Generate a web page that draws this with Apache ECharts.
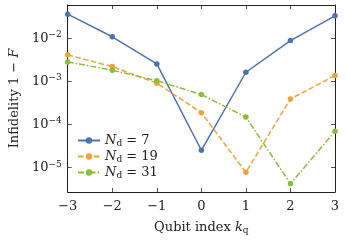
<!DOCTYPE html>
<html><head><meta charset="utf-8">
<script src="https://cdn.jsdelivr.net/npm/echarts@6/dist/echarts.min.js"></script>
<style>html,body{margin:0;padding:0;background:#fff}#c{width:345px;height:241px}</style>
</head><body><div id="c"></div>
<script>
const qubitIndex = [-3, -2, -1, 0, 1, 2, 3];
const nd7  = [0.0369, 0.0110, 0.00258, 2.54e-5, 0.00165, 0.0090, 0.0337];
const nd19 = [0.00418, 0.00223, 0.00092, 1.9e-4, 7.8e-6, 3.96e-4, 0.00138];
const nd31 = [0.00287, 0.00184, 0.00105, 5.0e-4, 1.5e-4, 4.25e-6, 7.0e-5];
const ndLabels = ['7', '19', '31'];
const xTicks = [-3, -2, -1, 0, 1, 2, 3];
const yTicks = [1e-5, 1e-4, 1e-3, 1e-2];

const FONT = 'DejaVu Serif';
const FS = 13;
const colors = ['#4c72b0', '#eea43a', '#8cbc3c'];
const yMin = Math.pow(10, -5.565), yMax = Math.pow(10, -1.22);

function mk(v){ return qubitIndex.map((k,i)=>[k, v[i]]); }
const series = [nd7, nd19, nd31].map((v, i) => ({
  name: 'Nd' + ndLabels[i],
  type: 'line',
  data: mk(v),
  symbol: 'circle',
  symbolSize: 5.5,
  color: colors[i],
  lineStyle: { width: 1.5, color: colors[i], type: i===0 ? 'solid' : (i===1 ? [5.5, 2.5] : [6, 2, 1.5, 2]) },
  itemStyle: { color: colors[i] },
  emphasis: { disabled: true },
  animation: false
}));

const minus = s => String(s).replace('-', '\u2212');
const tickInside = { show: true, inside: true, length: 4, lineStyle: { color: '#222', width: 0.8 } };

const chart = echarts.init(document.getElementById('c'), null, { renderer: 'canvas' });
chart.setOption({
  animation: false,
  grid: { left: 65, right: 10, top: 5, bottom: 49 },
  legend: {
    orient: 'vertical', left: 72, top: 129,
    itemWidth: 22, itemHeight: 8, itemGap: 2,
    data: series.map(s => s.name),
    formatter: n => '{i|N}{sub|d}{t| = ' + n.slice(2) + '}',
    textStyle: {
      fontFamily: FONT, fontSize: FS, color: '#222',
      rich: {
        i: { fontFamily: FONT, fontSize: FS, fontStyle: 'italic' },
        sub: { fontFamily: FONT, fontSize: 9, padding: [6, 0, 0, 0] },
        t: { fontFamily: FONT, fontSize: FS }
      }
    }
  },
  xAxis: [{
    type: 'value', min: -3, max: 3, interval: 1,
    axisLine: { show: true, onZero: false, lineStyle: { color: '#222', width: 1 } },
    axisTick: tickInside,
    splitLine: { show: false },
    axisLabel: { fontFamily: FONT, fontSize: FS, color: '#222', margin: 8, formatter: v => minus(v) },
    name: '{t|Qubit index }{i|k}{sub|q}',
    nameLocation: 'middle', nameGap: 28,
    nameTextStyle: {
      fontFamily: FONT, fontSize: FS, color: '#222',
      rich: {
        t: { fontFamily: FONT, fontSize: FS },
        i: { fontFamily: FONT, fontSize: FS, fontStyle: 'italic' },
        sub: { fontFamily: FONT, fontSize: 9, padding: [6, 0, 0, 0] }
      }
    }
  }, {
    type: 'value', min: -3, max: 3, interval: 1, position: 'top',
    axisLine: { show: true, onZero: false, lineStyle: { color: '#222', width: 1 } },
    axisTick: tickInside, axisLabel: { show: false }, splitLine: { show: false }
  }],
  yAxis: [{
    type: 'log', logBase: 10, min: yMin, max: yMax,
    axisLine: { show: true, onZero: false, lineStyle: { color: '#222', width: 1 } },
    axisTick: Object.assign({}, tickInside, { customValues: yTicks }),
    splitLine: { show: false },
    axisLabel: {
      customValues: yTicks, margin: 6,
      fontFamily: FONT, fontSize: FS, color: '#222',
      formatter: v => '{b|10}{s|' + minus(Math.round(Math.log10(v))) + '}',
      rich: {
        b: { fontFamily: FONT, fontSize: FS },
        s: { fontFamily: FONT, fontSize: 9, padding: [0, 0, 7, 0] }
      }
    },
    name: '{t|Infidelity 1 \u2212 }{i|F}',
    nameLocation: 'middle', nameGap: 46,
    nameTextStyle: {
      fontFamily: FONT, fontSize: FS, color: '#222',
      rich: {
        t: { fontFamily: FONT, fontSize: FS },
        i: { fontFamily: FONT, fontSize: FS, fontStyle: 'italic' }
      }
    }
  }, {
    type: 'log', logBase: 10, min: yMin, max: yMax, position: 'right',
    axisLine: { show: true, onZero: false, lineStyle: { color: '#222', width: 1 } },
    axisTick: Object.assign({}, tickInside, { customValues: yTicks }),
    axisLabel: { show: false }, splitLine: { show: false }
  }],
  series: series
});
</script></body></html>
